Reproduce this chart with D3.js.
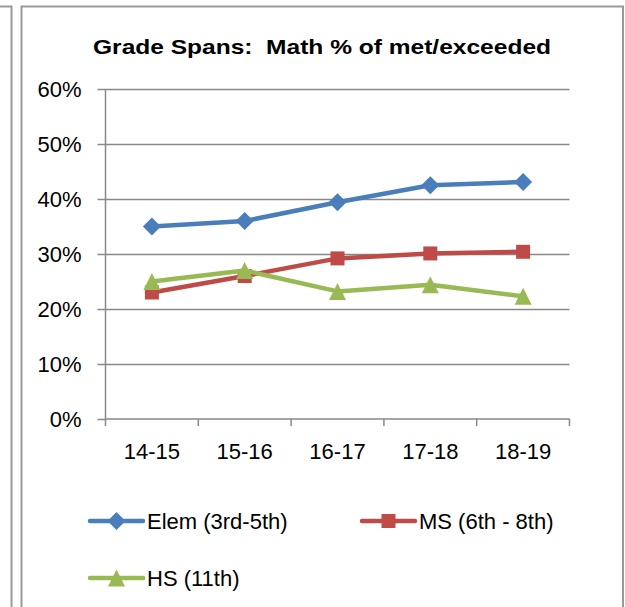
<!DOCTYPE html>
<html><head><meta charset="utf-8">
<script src="https://cdn.jsdelivr.net/npm/d3@7"></script>
<style>html,body{margin:0;padding:0;background:#fff;}svg{display:block;}</style>
</head><body>
<script>
const categories = ["14-15","15-16","16-17","17-18","18-19"];
const elemValues = [0.350, 0.360, 0.394, 0.425, 0.431];
const msValues   = [0.230, 0.260, 0.292, 0.301, 0.304];
const hsValues   = [0.250, 0.270, 0.232, 0.244, 0.223];
const yTicks = [0, 0.1, 0.2, 0.3, 0.4, 0.5, 0.6];
const seriesNames = ["Elem (3rd-5th)", "MS (6th - 8th)", "HS (11th)"];
const titleText = "Grade Spans:  Math % of met/exceeded";

const series = [
  {name: seriesNames[0], values: elemValues, color: "#4A7EBB", marker: "diamond"},
  {name: seriesNames[1], values: msValues, color: "#BE4B48", marker: "square"},
  {name: seriesNames[2], values: hsValues, color: "#98B954", marker: "triangle"}
];

const W = 625, H = 607;
const FONT = "'Liberation Sans', Arial, sans-serif";
const FS = 22;
const svg = d3.select("body").append("svg").attr("width", W).attr("height", H);

// surrounding frames
const frameColor = "#999";
svg.append("path").attr("d", "M0,6.5H11.5V607").attr("fill","none").attr("stroke",frameColor).attr("stroke-width",2);
svg.append("path").attr("d", "M21.5,607V6.5H623V607").attr("fill","none").attr("stroke",frameColor).attr("stroke-width",2);

const plot = {left: 105.5, right: 569.5, top: 89, bottom: 419};
const x = d3.scaleBand().domain(categories).range([plot.left, plot.right]);
const y = d3.scaleLinear().domain([0, 0.6]).range([plot.bottom, plot.top]);

// title
svg.append("text").attr("x", 322).attr("y", 54).attr("text-anchor","middle")
  .style("white-space","pre")
  .attr("font-family", FONT).attr("font-weight","bold").attr("font-size", 21)
  .attr("textLength", 458).attr("lengthAdjust","spacingAndGlyphs")
  .text(titleText);

const gridColor = "#888";
// gridlines
svg.append("g").selectAll("line").data(yTicks.filter(d=>d>0)).join("line")
  .attr("x1", plot.left).attr("x2", plot.right)
  .attr("y1", d=>Math.round(y(d))+0.5).attr("y2", d=>Math.round(y(d))+0.5)
  .attr("stroke", gridColor).attr("stroke-width", 1.5);

// y axis
const yAxis = d3.axisLeft(y).tickValues(yTicks).tickFormat(d3.format(".0%")).tickSize(8).tickPadding(16);
const gy = svg.append("g").attr("transform", `translate(${plot.left},0)`).call(yAxis);
gy.select(".domain").attr("stroke", gridColor).attr("stroke-width", 1.5).attr("d", `M0,${plot.top}V${plot.bottom}`);
gy.selectAll(".tick line").attr("stroke", gridColor).attr("stroke-width", 1.5);
gy.selectAll(".tick text").attr("font-family", FONT).attr("font-size", FS).attr("fill", "#000").attr("dy", "0.36em");

// x axis
const xAxis = d3.axisBottom(x).tickSize(0).tickPadding(24);
const gx = svg.append("g").attr("transform", `translate(0,${plot.bottom})`).call(xAxis);
gx.select(".domain").attr("stroke", gridColor).attr("stroke-width", 1.5).attr("d", `M${plot.left},0H${plot.right}`);
gx.selectAll(".tick text").attr("font-family", FONT).attr("font-size", FS).attr("fill", "#000");
// boundary tick marks
const bounds = categories.map(c => x(c)).concat([x(categories[categories.length-1]) + x.bandwidth()]);
gx.append("g").selectAll("line").data(bounds).join("line")
  .attr("x1", d=>d).attr("x2", d=>d).attr("y1", 0).attr("y2", 7)
  .attr("stroke", gridColor).attr("stroke-width", 1.5);

const cx = c => x(c) + x.bandwidth()/2;

function drawMarker(g, type, px, py, color) {
  if (type === "diamond") {
    const r = 9;
    g.append("path").attr("d", `M${px},${py-r}L${px+r},${py}L${px},${py+r}L${px-r},${py}Z`).attr("fill", color);
  } else if (type === "square") {
    const s = 14;
    g.append("rect").attr("x", px-s/2).attr("y", py-s/2).attr("width", s).attr("height", s).attr("fill", color);
  } else {
    const w = 17, h = 17;
    g.append("path").attr("d", `M${px},${py-h/2}L${px+w/2},${py+h/2}L${px-w/2},${py+h/2}Z`).attr("fill", color);
  }
}

const line = d3.line().x((d,i)=>cx(categories[i])).y(d=>y(d));
series.forEach(s => {
  const g = svg.append("g");
  g.append("path").attr("d", line(s.values)).attr("fill","none").attr("stroke", s.color)
    .attr("stroke-width", 4.5).attr("stroke-linejoin","round").attr("stroke-linecap","round");
  s.values.forEach((v,i) => drawMarker(g, s.marker, cx(categories[i]), y(v), s.color));
});

// legend
const legendPos = [{lx: 90, ly: 521}, {lx: 362, ly: 521}, {lx: 90, ly: 578}];
series.forEach((s, i) => {
  const p = legendPos[i];
  const g = svg.append("g");
  g.append("line").attr("x1", p.lx).attr("x2", p.lx + 53).attr("y1", p.ly).attr("y2", p.ly)
    .attr("stroke", s.color).attr("stroke-width", 4.5).attr("stroke-linecap","round");
  drawMarker(g, s.marker, p.lx + 26.5, p.ly, s.color);
  g.append("text").attr("x", p.lx + 57).attr("y", p.ly).attr("dy","0.36em")
    .attr("font-family", FONT).attr("font-size", FS).text(s.name);
});
</script>
</body></html>
